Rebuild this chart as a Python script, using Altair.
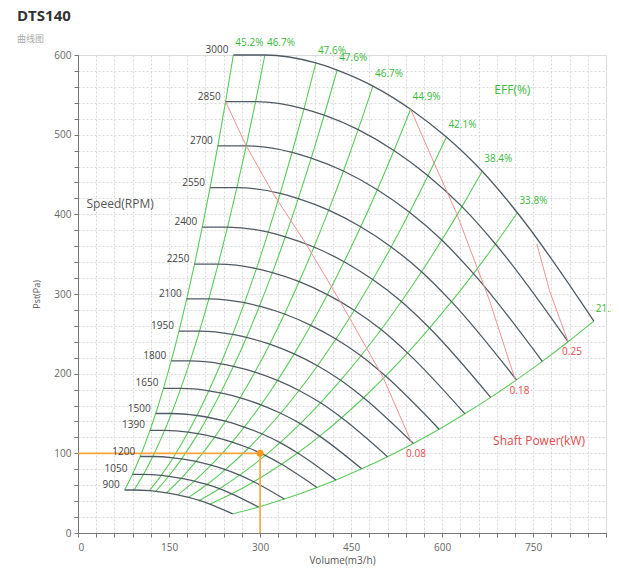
import altair as alt
import pandas as pd

# ---------------- data ----------------
RPM = [900, 1050, 1200, 1390, 1500, 1650, 1800, 1950, 2100, 2250, 2400, 2550, 2700, 2850, 3000]

# flow (m3/h) of each speed curve at its crossings with the efficiency lines
Q900 = [76.8, 92.4, 117.6, 128.1, 145.8, 164.4, 182.1, 199.8, 217.2, 255.0]
Q1050 = [89.6, 107.8, 137.2, 149.5, 170.1, 191.8, 212.5, 233.1, 253.4, 297.5]
Q1200 = [102.4, 123.2, 156.8, 170.8, 194.4, 219.2, 242.8, 266.4, 289.6, 340.0]
Q1390 = [118.6, 142.7, 181.6, 197.8, 225.2, 253.9, 281.2, 308.6, 335.4, 393.8]
Q1500 = [128.0, 154.0, 196.0, 213.5, 243.0, 274.0, 303.5, 333.0, 362.0, 425.0]
Q1650 = [140.8, 169.4, 215.6, 234.9, 267.3, 301.4, 333.9, 366.3, 398.2, 467.5]
Q1800 = [153.6, 184.8, 235.2, 256.2, 291.6, 328.8, 364.2, 399.6, 434.4, 510.0]
Q1950 = [166.4, 200.2, 254.8, 277.6, 315.9, 356.2, 394.6, 432.9, 470.6, 552.5]
Q2100 = [179.2, 215.6, 274.4, 298.9, 340.2, 383.6, 424.9, 466.2, 506.8, 595.0]
Q2250 = [192.0, 231.0, 294.0, 320.3, 364.5, 411.0, 455.3, 499.5, 543.0, 637.5]
Q2400 = [204.8, 246.4, 313.6, 341.6, 388.8, 438.4, 485.6, 532.8, 579.2, 680.0]
Q2550 = [217.6, 261.8, 333.2, 363.0, 413.1, 465.8, 516.0, 566.1, 615.4, 722.5]
Q2700 = [230.4, 277.2, 352.8, 384.3, 437.4, 493.2, 546.3, 599.4, 651.6, 765.0]
Q2850 = [243.2, 292.6, 372.4, 405.7, 461.7, 520.6, 576.7, 632.7, 687.8, 807.5]
Q3000 = [256.0, 308.0, 392.0, 427.0, 486.0, 548.0, 607.0, 666.0, 724.0, 850.0]

# static pressure (Pa) at the same crossings
P900 = [54.0, 54.0, 53.1, 52.3, 50.5, 47.9, 44.7, 40.9, 36.2, 23.9]
P1050 = [73.5, 73.5, 72.3, 71.2, 68.7, 65.2, 60.9, 55.6, 49.2, 32.6]
P1200 = [96.0, 96.0, 94.4, 93.0, 89.8, 85.1, 79.5, 72.6, 64.3, 42.6]
P1390 = [128.8, 128.8, 126.7, 124.7, 120.4, 114.2, 106.7, 97.5, 86.3, 57.1]
P1500 = [150.0, 150.0, 147.5, 145.3, 140.3, 133.0, 124.3, 113.5, 100.5, 66.5]
P1650 = [181.5, 181.5, 178.5, 175.8, 169.7, 160.9, 150.3, 137.3, 121.6, 80.5]
P1800 = [216.0, 216.0, 212.4, 209.2, 202.0, 191.5, 178.9, 163.4, 144.7, 95.8]
P1950 = [253.5, 253.5, 249.3, 245.5, 237.0, 224.8, 210.0, 191.8, 169.8, 112.4]
P2100 = [294.0, 294.0, 289.1, 284.7, 274.9, 260.7, 243.5, 222.5, 197.0, 130.3]
P2250 = [337.5, 337.5, 331.9, 326.8, 315.6, 299.3, 279.6, 255.4, 226.1, 149.6]
P2400 = [384.0, 384.0, 377.6, 371.8, 359.0, 340.5, 318.1, 290.6, 257.3, 170.2]
P2550 = [433.5, 433.5, 426.3, 419.8, 405.3, 384.4, 359.1, 328.0, 290.4, 192.2]
P2700 = [486.0, 486.0, 477.9, 470.6, 454.4, 430.9, 402.6, 367.7, 325.6, 215.5]
P2850 = [541.5, 541.5, 532.5, 524.4, 506.3, 480.1, 448.5, 409.7, 362.8, 240.1]
P3000 = [600.0, 600.0, 590.0, 581.0, 561.0, 532.0, 497.0, 454.0, 402.0, 266.0]

EFF_LABELS = ["45.2%", "46.7%", "47.6%", "47.6%", "46.7%", "44.9%", "42.1%", "38.4%", "33.8%", "21.2%"]

# shaft power lines (kW)
POWER_LABELS = ["0.08", "0.18", "0.25"]
PW008_Q = [243.2, 277.2, 321.6, 374.0, 431.0, 503.0, 550.5]
PW008_P = [541.5, 486.0, 426.0, 365.0, 292.0, 195.0, 111.8]
PW018_Q = [548.0, 590.0, 624.0, 678.0, 721.0]
PW018_P = [532.0, 459.0, 401.0, 292.0, 191.0]
PW025_Q = [756.0, 777.0, 796.5, 807.5]
PW025_P = [363.0, 304.0, 263.0, 240.0]

# operating point
OP_Q = [300]
OP_P = [100]

# ---------------- tables ----------------
FLOWS = [Q900, Q1050, Q1200, Q1390, Q1500, Q1650, Q1800, Q1950, Q2100, Q2250, Q2400, Q2550, Q2700, Q2850, Q3000]
PRESS = [P900, P1050, P1200, P1390, P1500, P1650, P1800, P1950, P2100, P2250, P2400, P2550, P2700, P2850, P3000]

rows = []
for rpm, qs, ps in zip(RPM, FLOWS, PRESS):
    for i, (q, p) in enumerate(zip(qs, ps)):
        rows.append({"rpm": rpm, "idx": i, "Q": q, "P": p})
curves = pd.DataFrame(rows)

starts = curves[curves["idx"] == 0].copy()
starts["label"] = starts["rpm"].astype(str)

tops = pd.DataFrame({"Q": Q3000, "P": P3000, "label": EFF_LABELS})

prow = []
for lab, qs, ps in zip(POWER_LABELS, [PW008_Q, PW018_Q, PW025_Q], [PW008_P, PW018_P, PW025_P]):
    for i, (q, p) in enumerate(zip(qs, ps)):
        prow.append({"kw": lab, "i": i, "Q": q, "P": p})
power = pd.DataFrame(prow)
power_end = power.groupby("kw").tail(1)

op = pd.DataFrame({"Q": OP_Q, "P": OP_P, "zero": [0]})

notes = pd.DataFrame({
    "Q": [14.0, 686.0, 684.0],
    "P": [413.0, 556.0, 115.0],
    "label": ["Speed(RPM)", "EFF(%)", "Shaft Power(kW)"],
    "color": ["#555555", "#3dbb3d", "#e8494d"],
})

# ---------------- styles ----------------
FONT = "Open Sans"
GREEN = "#5acb5a"
GREEN_TXT = "#38b838"
GREY = "#4f5b64"
RED = "#f29191"
RED_TXT = "#e8494d"
ORANGE = "#f6a53a"

xscale = alt.Scale(domain=[0, 870], nice=False, zero=True)
yscale = alt.Scale(domain=[0, 600], nice=False, zero=True)

xaxis = alt.Axis(
    values=list(range(0, 871, 30)),
    labelExpr="datum.value % 150 === 0 ? datum.label : ''",
    labelOverlap=False,
    title="Volume(m3/h)",
    grid=True, gridDash=[2, 2], gridColor="#d8d8d8",
    tickSize=4, tickColor="#777", domainColor="#777",
    labelColor="#666", labelFontSize=10, labelPadding=5, labelFont=FONT,
    titleFont=FONT, titleFontSize=10, titleFontWeight="normal", titleColor="#555",
    titlePadding=3,
)
yaxis = alt.Axis(
    values=list(range(0, 601, 20)),
    labelExpr="datum.value % 100 === 0 ? datum.label : ''",
    labelOverlap=False,
    title="Pst(Pa)",
    grid=True, gridDash=[2, 2], gridColor="#d8d8d8",
    tickSize=4, tickColor="#777", domainColor="#777",
    labelColor="#666", labelFontSize=10, labelPadding=3, labelFont=FONT,
    titleFont=FONT, titleFontSize=9, titleFontWeight="normal", titleColor="#555",
    titlePadding=12,
)

X = alt.X("Q:Q", scale=xscale, axis=xaxis)
Y = alt.Y("P:Q", scale=yscale, axis=yaxis)

eff_lines = alt.Chart(curves).mark_line(color=GREEN, strokeWidth=1.1, interpolate="monotone").encode(
    x=X, y=Y, detail="idx:N", order="rpm:Q"
)
speed_lines = alt.Chart(curves).mark_line(color=GREY, strokeWidth=1.3, interpolate="monotone").encode(
    x=X, y=Y, detail="rpm:N", order="idx:Q"
)
rpm_text = alt.Chart(starts).mark_text(align="right", baseline="middle", dx=-5, dy=-5,
                                       fontSize=10, font=FONT, color="#444").encode(
    x=X, y=Y, text="label:N"
)
eff_text = alt.Chart(tops).mark_text(align="left", baseline="middle", dx=2, dy=-12,
                                     fontSize=10, font=FONT, color=GREEN_TXT).encode(
    x=X, y=Y, text="label:N"
)
power_lines = alt.Chart(power).mark_line(color=RED, strokeWidth=1).encode(
    x=X, y=Y, detail="kw:N", order="i:Q"
)
power_text = alt.Chart(power_end).mark_text(align="left", baseline="middle", dx=-6, dy=10,
                                            fontSize=10, font=FONT, color=RED_TXT).encode(
    x=X, y=Y, text="kw:N"
)
op_h = alt.Chart(op).mark_rule(color=ORANGE, strokeWidth=1.6).encode(
    x=alt.X("zero:Q", scale=xscale, axis=xaxis), x2="Q:Q", y=Y
)
op_v = alt.Chart(op).mark_rule(color=ORANGE, strokeWidth=1.6).encode(
    x=X, y=alt.Y("zero:Q", scale=yscale, axis=yaxis), y2="P:Q"
)
op_pt = alt.Chart(op).mark_circle(color="#f39a1e", size=50, opacity=1).encode(x=X, y=Y)
note_text = alt.Chart(notes).mark_text(align="left", baseline="middle", fontSize=12, font=FONT).encode(
    x=X, y=Y, text="label:N", color=alt.Color("color:N", scale=None)
)

chart = alt.layer(
    eff_lines, speed_lines, power_lines, op_h, op_v, op_pt,
    rpm_text, eff_text, power_text, note_text,
).properties(
    width=528, height=478,
    title=alt.TitleParams(
        text="DTS140", subtitle="曲线图",
        anchor="start", frame="group", dx=-61, offset=-6,
        fontSize=15, fontWeight="bold", color="#333", font=FONT,
        subtitleFontSize=9, subtitleColor="#aaaaaa", subtitleFont="Noto Sans CJK SC",
        subtitlePadding=11,
    ),
    autosize=alt.AutoSizeParams(type="none"),
    padding={"left": 70, "top": 47, "right": 5, "bottom": 34},
).configure_view(strokeWidth=0).configure(background="white")

chart.save("out.html", embed_options={"renderer": "svg", "actions": False})
